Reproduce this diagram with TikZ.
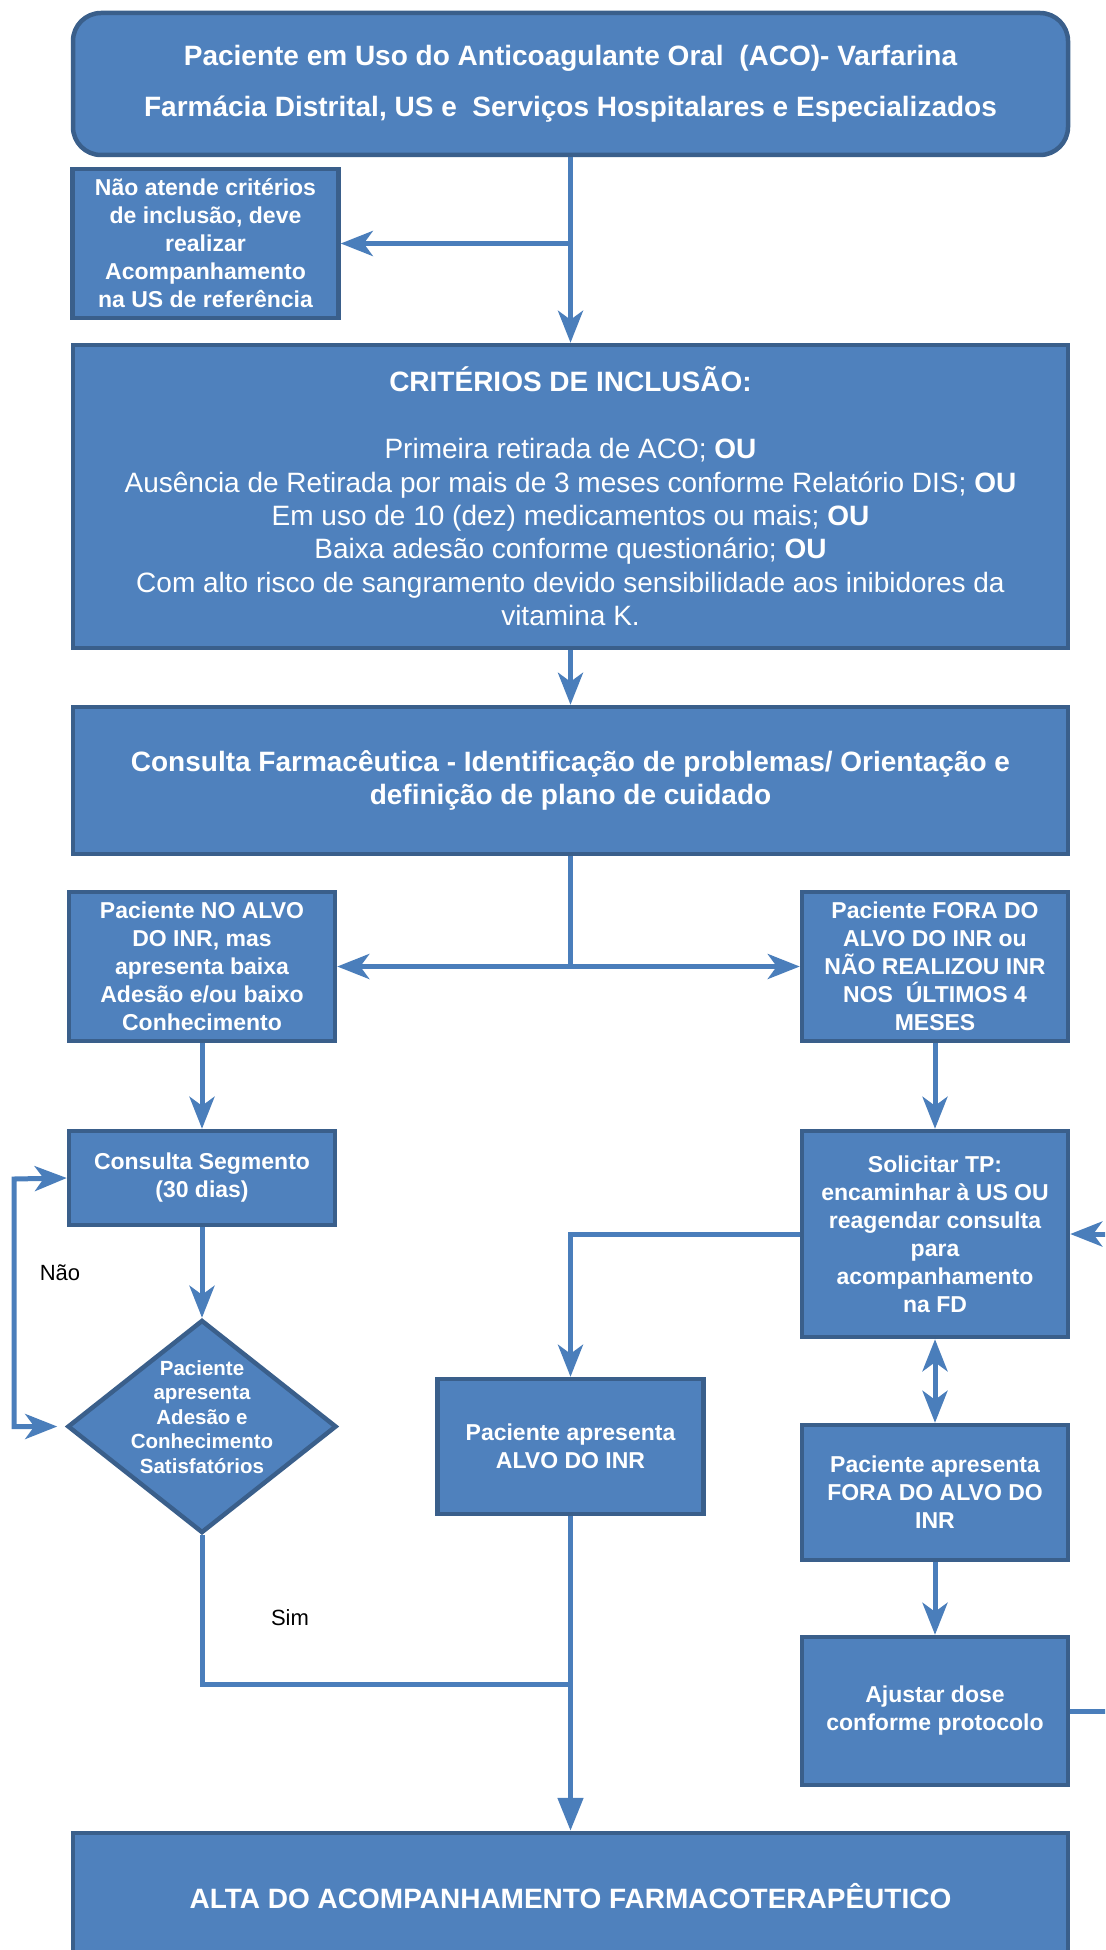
\documentclass[tikz,border=0pt]{standalone}
\usepackage{fontspec}
\setmainfont{Liberation Sans}
\usetikzlibrary{shapes.geometric, arrows.meta, positioning, calc}
\definecolor{azul}{HTML}{4F81BD}
\definecolor{borda}{HTML}{3A5F8B}
\definecolor{linha}{HTML}{4A7EBB}

\begin{document}
\begin{tikzpicture}[x=1pt, y=-1pt,
  caixa/.style={draw=borda, fill=azul, line width=4.5pt, text=white, align=center,
    inner sep=0pt, font=\bfseries\fontsize{23}{28}\selectfont},
  larga/.style={caixa, minimum width=995pt},
  estreita/.style={caixa, minimum width=266pt},
  decisao/.style={diamond, draw=borda, fill=azul, line width=4.5pt, inner sep=0pt},
  fluxo/.style={draw=linha, line width=5pt},
  seta/.style={fluxo, -{Stealth[length=32pt, width=25pt, inset=9pt]}},
  dupla/.style={fluxo, {Stealth[length=32pt, width=25pt, inset=9pt]}-{Stealth[length=32pt, width=25pt, inset=9pt]}},
  setafinal/.style={fluxo, -{Triangle[length=33pt, width=25pt]}},
  rotulo/.style={font=\fontsize{22}{26}\selectfont}]

\clip (0,0) rectangle (1105,1950);

% coluna central
\node[larga, minimum height=142pt, rounded corners=28pt, font=\bfseries\fontsize{28}{51}\selectfont]
  (inicio) at (570.5,84) {Paciente em Uso do Anticoagulante Oral\ \ (ACO)- Varfarina\\
  Farmácia Distrital, US e\ \ Serviços Hospitalares e Especializados};
\node[estreita, minimum height=149pt] (naoatende) at (205.5,243.5)
  {Não atende critérios\\de inclusão, deve\\realizar\\Acompanhamento\\na US de referência};
\node[larga, minimum height=303pt, font=\fontsize{28}{33.4}\selectfont] (criterios) at (570.5,496.5)
  {\textbf{CRITÉRIOS DE INCLUSÃO:}\\[33.4pt]
  Primeira retirada de ACO; \textbf{OU}\\
  Ausência de Retirada por mais de 3 meses conforme Relatório DIS; \textbf{OU}\\
  Em uso de 10 (dez) medicamentos ou mais; \textbf{OU}\\
  Baixa adesão conforme questionário; \textbf{OU}\\
  Com alto risco de sangramento devido sensibilidade aos inibidores da\\
  vitamina K.};
\node[larga, minimum height=147pt, font=\bfseries\fontsize{28}{33}\selectfont] (consulta) at (570.5,780.5)
  {Consulta Farmacêutica - Identificação de problemas/ Orientação e\\definição de plano de cuidado};

% ramo esquerdo
\node[estreita, minimum height=149pt] (noalvo) at (202,966.5)
  {Paciente NO ALVO\\DO INR, mas\\apresenta baixa\\Adesão e/ou baixo\\Conhecimento};
\node[estreita, minimum height=94pt] (segmento) at (202,1178) {Consulta Segmento\\(30 dias)};
\node[decisao, minimum width=269pt, minimum height=213pt] (decisao) at (202,1426.5) {};
\node[text=white, align=center, font=\bfseries\fontsize{20.5}{24.5}\selectfont] (txtdecisao) at (202,1417)
  {Paciente\\apresenta\\Adesão e\\Conhecimento\\Satisfatórios};
\node[estreita, minimum height=135pt] (alvo) at (570.5,1446.5) {Paciente apresenta\\ALVO DO INR};

% ramo direito
\node[estreita, minimum height=149pt] (foraalvo) at (935,966.5)
  {Paciente FORA DO\\ALVO DO INR ou\\NÃO REALIZOU INR\\NOS\ \ ÚLTIMOS 4\\MESES};
\node[estreita, minimum height=206pt] (solicitar) at (935,1234)
  {Solicitar TP:\\encaminhar à US OU\\reagendar consulta\\para\\acompanhamento\\na FD};
\node[estreita, minimum height=135pt] (foradoalvo) at (935,1492.5) {Paciente apresenta\\FORA DO ALVO DO\\INR};
\node[estreita, minimum height=148pt] (ajustar) at (935,1711) {Ajustar dose\\conforme protocolo};

\node[larga, minimum height=127pt, font=\bfseries\fontsize{28}{33}\selectfont] (alta) at (570.5,1896.5)
  {ALTA DO ACOMPANHAMENTO FARMACOTERAPÊUTICO};

% conectores
\draw[seta] (inicio.south) -- (criterios.north);
\draw[seta] (inicio.south |- naoatende.east) -- (naoatende.east);
\draw[seta] (criterios.south) -- (consulta.north);
\coordinate (divide) at (570.5,966.5);
\draw[fluxo] (consulta.south) -- (divide);
\draw[seta] (divide) -- (noalvo.east);
\draw[seta] (divide) -- (foraalvo.west);
\draw[seta] (noalvo.south) -- (segmento.north);
\draw[seta] (foraalvo.south) -- (solicitar.north);
\draw[seta] (segmento.south) -- (decisao.north);
\coordinate (volta) at (14,1179);
\draw[dupla, shorten <=8pt] (decisao.west) -| (volta) -- (segmento.west);
\node[rotulo] (nao) at (60,1273) {Não};
\coordinate (junta) at (570.5,1684);
\draw[fluxo] (decisao.south) |- (junta);
\node[rotulo] (sim) at (290,1618) {Sim};
\draw[setafinal] (alvo.south) -- (alta.north);
\draw[seta] (solicitar.west) -| (alvo.north);
\draw[dupla] (solicitar.south) -- (foradoalvo.north);
\draw[seta] (foradoalvo.south) -- (ajustar.north);
\draw[seta] (ajustar.east) -- ++(44,0) |- (solicitar.east);
\end{tikzpicture}
\end{document}
